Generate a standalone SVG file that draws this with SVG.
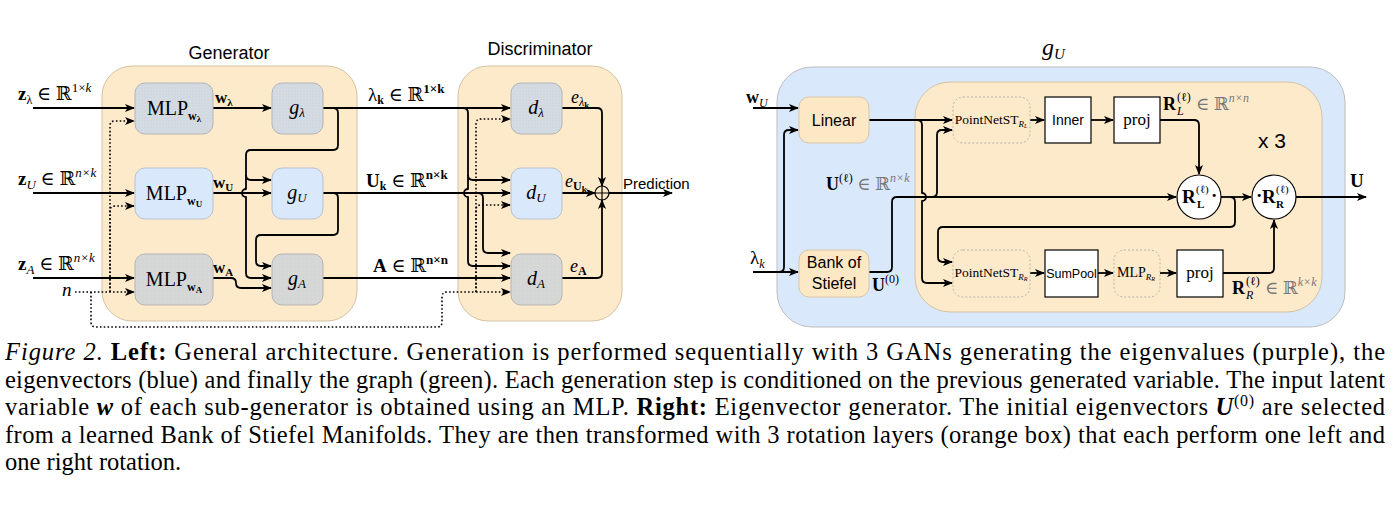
<svg xmlns="http://www.w3.org/2000/svg" width="1400" height="505" viewBox="0 0 1400 505">
<style>
.sans{font-family:"Liberation Sans",Arial,sans-serif;fill:#000;}
.m{font-family:"Liberation Serif","DejaVu Serif",serif;fill:#000;}
.cap{font-family:"Liberation Serif","Times New Roman",serif;font-size:24.5px;fill:#000;}
.c{fill:none;stroke:#000;stroke-width:1.8;stroke-linejoin:round;}
.a{marker-end:url(#ah);}
.d{stroke-dasharray:1.6 2.2;stroke-width:1.6;}
.grp{fill:#fdeacb;stroke:#d3c3a3;stroke-width:1;}
.blueg{fill:#dae8fc;stroke:#bdbdbd;stroke-width:1;}
.nb{fill:url(#dotB);stroke:#b4b4b4;stroke-width:1;}
.nl{fill:#dae8fc;stroke:#b8c2cf;stroke-width:1;}
.ng{fill:url(#dotG);stroke:#b4b4b4;stroke-width:1;}
.no{fill:#fde8c6;stroke:#d7c7a6;stroke-width:1;}
.nd{fill:none;stroke:#b9b4a8;stroke-width:1;stroke-dasharray:2 2;}
.nw{fill:#fff;stroke:#000;stroke-width:1.2;}
.grey{fill:#777;}
</style>
<defs>
<marker id="ah" markerWidth="10" markerHeight="8" refX="9" refY="4" orient="auto" markerUnits="userSpaceOnUse"><path d="M0,0 L10,4 L0,8 L2.5,4 z" fill="#000"/></marker>
<pattern id="dotB" width="3" height="3" patternUnits="userSpaceOnUse"><rect width="3" height="3" fill="#d5dbe3"/><circle cx="1" cy="1" r="0.5" fill="#c3c9d1"/></pattern>
<pattern id="dotG" width="4" height="4" patternUnits="userSpaceOnUse"><rect width="4" height="4" fill="#d4d6d7"/><circle cx="1" cy="1" r="0.6" fill="#ece3c4"/></pattern>
</defs>

<!-- ============ LEFT: containers ============ -->
<g id="generator">
<rect class="grp" x="102" y="66" width="255" height="255" rx="30"/>
<text class="sans" x="229" y="59" font-size="18" text-anchor="middle">Generator</text>
</g>
<g id="discriminator">
<rect class="grp" x="458" y="66" width="164" height="255" rx="30"/>
<text class="sans" x="540" y="55" font-size="18" text-anchor="middle">Discriminator</text>
</g>

<!-- ============ LEFT: connectors ============ -->
<g id="connectors-left">
<path class="c a" d="M33,108 H134"/>
<path class="c a" d="M33,193 H134"/>
<path class="c a" d="M33,278 H134"/>
<path class="c d a" d="M75,292 H134"/>
<path class="c d a" d="M110,292 V126 Q110,121 115,121 H134"/>
<path class="c d a" d="M110,292 V211 Q110,206 115,206 H134"/>
<path class="c d" d="M91,292 V322 Q91,327 96,327 H437 Q442,327 442,322 V297 Q442,292 447,292 H476"/>
<path class="c d a" d="M476,292 H510"/>
<path class="c d a" d="M476,292 V124 Q476,119 481,119 H510"/>
<path class="c d a" d="M476,292 V210 Q476,205 481,205 H510"/>

<path class="c a" d="M213,108 H271"/>
<path class="c a" d="M213,193 H271"/>
<path class="c a" d="M213,278 H231 Q236,278 236,283 Q236,288 241,288 H271"/>

<path class="c a" d="M323,108 H333 Q338,108 338,113 V145 Q338,150 333,150 H251 Q246,150 246,155 V175 Q246,180 251,180 H271"/>
<path class="c a" d="M246,175 V189 A4,4 0 0 0 246,197 V273 Q246,278 251,278 H271"/>
<path class="c a" d="M323,193 H333 Q338,193 338,198 V230 Q338,235 333,235 H261 Q256,235 256,240 V261 Q256,266 261,266 H271"/>

<path class="c a" d="M323,108 H510"/>
<path class="c a" d="M463,108 Q468,108 468,113 V175 Q468,180 473,180 H510"/>
<path class="c a" d="M468,175 V189 A4,4 0 0 0 468,197 V261 Q468,266 473,266 H510"/>
<path class="c a" d="M323,193 H510"/>
<path class="c a" d="M478,193 Q483,193 483,198 V248 Q483,253 488,253 H510"/>
<path class="c a" d="M323,278 H510"/>

<path class="c a" d="M562,108 H597 Q602,108 602,113 V186"/>
<path class="c a" d="M562,193 H595"/>
<path class="c a" d="M562,278 H597 Q602,278 602,273 V200"/>
<path class="c a" d="M609,193 H672"/>
</g>

<!-- ============ LEFT: nodes ============ -->
<g id="mlp-wl"><rect class="nb" x="135" y="83" width="78" height="51" rx="10"/>
<text class="m" x="174" y="115" font-size="20" text-anchor="middle">MLP<tspan dy="5" font-size="12" font-weight="bold">w</tspan><tspan dy="2" font-size="9" font-weight="bold">λ</tspan></text></g>
<g id="mlp-wu"><rect class="nl" x="135" y="168" width="78" height="51" rx="10"/>
<text class="m" x="174" y="200" font-size="20" text-anchor="middle">MLP<tspan dy="5" font-size="12" font-weight="bold">w</tspan><tspan dy="2" font-size="9" font-weight="bold">U</tspan></text></g>
<g id="mlp-wa"><rect class="ng" x="135" y="254" width="78" height="51" rx="10"/>
<text class="m" x="174" y="286" font-size="20" text-anchor="middle">MLP<tspan dy="5" font-size="12" font-weight="bold">w</tspan><tspan dy="2" font-size="9" font-weight="bold">A</tspan></text></g>

<g id="g-l"><rect class="nb" x="272" y="83" width="51" height="51" rx="10"/>
<text class="m" x="297" y="114" font-size="20" text-anchor="middle" font-style="italic">g<tspan dy="3" font-size="13">λ</tspan></text></g>
<g id="g-u"><rect class="nl" x="272" y="168" width="51" height="51" rx="10"/>
<text class="m" x="297" y="199" font-size="20" text-anchor="middle" font-style="italic">g<tspan dy="3" font-size="13">U</tspan></text></g>
<g id="g-a"><rect class="ng" x="272" y="254" width="51" height="51" rx="10"/>
<text class="m" x="297" y="285" font-size="20" text-anchor="middle" font-style="italic">g<tspan dy="3" font-size="13">A</tspan></text></g>

<g id="d-l"><rect class="nb" x="511" y="83" width="51" height="51" rx="10"/>
<text class="m" x="536" y="114" font-size="20" text-anchor="middle" font-style="italic">d<tspan dy="3" font-size="13">λ</tspan></text></g>
<g id="d-u"><rect class="nl" x="511" y="168" width="51" height="51" rx="10"/>
<text class="m" x="536" y="199" font-size="20" text-anchor="middle" font-style="italic">d<tspan dy="3" font-size="13">U</tspan></text></g>
<g id="d-a"><rect class="ng" x="511" y="254" width="51" height="51" rx="10"/>
<text class="m" x="536" y="285" font-size="20" text-anchor="middle" font-style="italic">d<tspan dy="3" font-size="13">A</tspan></text></g>

<g id="sum"><circle cx="602" cy="193" r="7" fill="#fdeacb" stroke="#000" stroke-width="1.2"/>
<path d="M595,193 H609 M602,186 V200" stroke="#000" stroke-width="1.2"/></g>

<!-- ============ LEFT: labels ============ -->
<g id="labels-left">
<text class="m" x="18" y="100" font-size="19"><tspan font-weight="bold">z</tspan><tspan dy="4" font-size="12">λ</tspan><tspan dy="-4"> ∈ ℝ</tspan><tspan dy="-8" font-size="13">1×<tspan font-style="italic">k</tspan></tspan></text>
<text class="m" x="18" y="185" font-size="19"><tspan font-weight="bold">z</tspan><tspan dy="4" font-size="13" font-style="italic">U</tspan><tspan dy="-4"> ∈ ℝ</tspan><tspan dy="-8" font-size="13" font-style="italic">n×k</tspan></text>
<text class="m" x="18" y="270" font-size="19"><tspan font-weight="bold">z</tspan><tspan dy="4" font-size="13" font-style="italic">A</tspan><tspan dy="-4"> ∈ ℝ</tspan><tspan dy="-8" font-size="13" font-style="italic">n×k</tspan></text>
<text class="m" x="62" y="296" font-size="19" font-style="italic">n</text>

<text class="m" x="215" y="103" font-size="17" font-weight="bold">w<tspan dy="3" font-size="11">λ</tspan></text>
<text class="m" x="213" y="188" font-size="17" font-weight="bold">w<tspan dy="3" font-size="11">U</tspan></text>
<text class="m" x="213" y="273" font-size="17" font-weight="bold">w<tspan dy="3" font-size="11">A</tspan></text>

<text class="m" x="368" y="101" font-size="19">λ<tspan dy="3" font-size="12" font-weight="bold">k</tspan><tspan dy="-3"> ∈ ℝ</tspan><tspan dy="-8" font-size="13" font-weight="bold">1×k</tspan></text>
<text class="m" x="366" y="187" font-size="19"><tspan font-weight="bold">U</tspan><tspan dy="3" font-size="12" font-weight="bold">k</tspan><tspan dy="-3"> ∈ ℝ</tspan><tspan dy="-8" font-size="13" font-weight="bold">n×k</tspan></text>
<text class="m" x="373" y="272" font-size="19"><tspan font-weight="bold">A</tspan> ∈ ℝ<tspan dy="-8" font-size="13" font-weight="bold">n×n</tspan></text>

<text class="m" x="571" y="103" font-size="18" font-style="italic">e<tspan dy="3" font-size="12">λ</tspan><tspan dy="2" font-size="9" font-style="normal" font-weight="bold">k</tspan></text>
<text class="m" x="565" y="187" font-size="18" font-style="italic">e<tspan dy="3" font-size="12" font-style="normal" font-weight="bold">U</tspan><tspan dy="2" font-size="9" font-style="normal" font-weight="bold">k</tspan></text>
<text class="m" x="570" y="272" font-size="18" font-style="italic">e<tspan dy="3" font-size="12" font-style="normal" font-weight="bold">A</tspan></text>
<text class="sans" x="623" y="189" font-size="15">Prediction</text>
</g>

<!-- ============ RIGHT: containers ============ -->
<g id="gu-block">
<rect class="blueg" x="777" y="67" width="568" height="260" rx="35"/>
<text class="m" x="1042" y="55" font-size="24" font-style="italic">g<tspan dy="4" font-size="15">U</tspan></text>
</g>
<g id="rotation-layer">
<rect class="grp" x="915" y="82" width="407" height="230" rx="35"/>
<text class="sans" x="1258" y="148" font-size="21">x 3</text>
</g>

<!-- ============ RIGHT: connectors ============ -->
<g id="connectors-right">
<path class="c a" d="M753,108 H798"/>
<path class="c a" d="M753,272 H798"/>
<path class="c a" d="M779,272 Q784,272 784,267 V135 Q784,130 789,130 H798"/>
<path class="c a" d="M869,120 H952"/>
<path class="c a" d="M917,120 Q922,120 922,125 V193 A4,4 0 0 1 922,201 V278 Q922,283 927,283 H952"/>
<path class="c a" d="M869,272 H887 Q892,272 892,267 V202 Q892,197 897,197 H1176"/>
<path class="c a" d="M932,197 Q937,197 937,192 V135 Q937,130 942,130 H952"/>
<path class="c a" d="M1030,120 H1044"/>
<path class="c a" d="M1091,120 H1113"/>
<path class="c a" d="M1160,120 H1194 Q1199,120 1199,125 V174"/>
<path class="c a" d="M1221,197 H1251"/>
<path class="c a" d="M1230,197 Q1235,197 1235,202 V222 Q1235,227 1230,227 H943 Q938,227 938,232 V257 Q938,262 943,262 H952"/>
<path class="c a" d="M1030,273 H1044"/>
<path class="c a" d="M1098,273 H1113"/>
<path class="c a" d="M1160,273 H1176"/>
<path class="c a" d="M1223,273 H1269 Q1274,273 1274,268 V220"/>
<path class="c a" d="M1296,197 H1366"/>
</g>

<!-- ============ RIGHT: nodes ============ -->
<g id="linear"><rect class="no" x="799" y="97" width="70" height="46" rx="10"/>
<text class="sans" x="834" y="126" font-size="16" text-anchor="middle">Linear</text></g>
<g id="bank"><rect class="no" x="799" y="250" width="70" height="47" rx="10"/>
<text class="sans" x="834" y="268" font-size="16" text-anchor="middle">Bank of</text>
<text class="sans" x="834" y="289" font-size="16" text-anchor="middle">Stiefel</text></g>

<g id="pointnet-l"><rect class="nd" x="953" y="97" width="77" height="46" rx="10"/>
<text class="m" x="991" y="124" font-size="13.5" text-anchor="middle">PointNetST<tspan dy="3" font-size="9" font-style="italic">R</tspan><tspan dy="1" font-size="6" font-style="italic">L</tspan></text></g>
<g id="inner"><rect class="nw" x="1045" y="97" width="46" height="46"/>
<text class="sans" x="1068" y="125" font-size="14" text-anchor="middle">Inner</text></g>
<g id="proj-l"><rect class="nw" x="1114" y="97" width="46" height="46"/>
<text class="m" x="1137" y="125" font-size="17" text-anchor="middle">proj</text></g>

<g id="pointnet-r"><rect class="nd" x="953" y="250" width="77" height="47" rx="10"/>
<text class="m" x="991" y="277" font-size="13.5" text-anchor="middle">PointNetST<tspan dy="3" font-size="9" font-style="italic">R</tspan><tspan dy="1" font-size="6" font-style="italic">R</tspan></text></g>
<g id="sumpool"><rect class="nw" x="1045" y="250" width="53" height="47"/>
<text class="sans" x="1071.5" y="278" font-size="12.5" text-anchor="middle">SumPool</text></g>
<g id="mlp-rr"><rect class="nd" x="1114" y="250" width="46" height="47" rx="10"/>
<text class="m" x="1136" y="277" font-size="14" text-anchor="middle">MLP<tspan dy="3" font-size="9" font-style="italic">R</tspan><tspan dy="1" font-size="6" font-style="italic">R</tspan></text></g>
<g id="proj-r"><rect class="nw" x="1177" y="250" width="46" height="47"/>
<text class="m" x="1200" y="278" font-size="17" text-anchor="middle">proj</text></g>

<g id="rl"><circle cx="1199" cy="197" r="22" fill="#fff" stroke="#000" stroke-width="1.2"/>
<text class="m" x="1182" y="203" font-size="19" font-weight="bold">R</text>
<text class="m" x="1196" y="193" font-size="11">(ℓ)</text>
<text class="m" x="1197" y="208" font-size="11" font-weight="bold">L</text>
<text class="m" x="1211" y="202" font-size="19" font-weight="bold">·</text></g>
<g id="rr"><circle cx="1274" cy="197" r="22" fill="#fff" stroke="#000" stroke-width="1.2"/>
<text class="m" x="1256" y="202" font-size="19" font-weight="bold">·</text>
<text class="m" x="1262" y="203" font-size="19" font-weight="bold">R</text>
<text class="m" x="1276" y="193" font-size="11">(ℓ)</text>
<text class="m" x="1276" y="208" font-size="11" font-weight="bold">R</text></g>

<!-- ============ RIGHT: labels ============ -->
<g id="labels-right">
<text class="m" x="746" y="103" font-size="18" font-weight="bold">w<tspan dy="4" font-size="12" font-style="italic" font-weight="normal">U</tspan></text>
<text class="m" x="750" y="264" font-size="19">λ<tspan dy="4" font-size="12" font-style="italic">k</tspan></text>
<text class="m" x="872" y="291" font-size="18" font-weight="bold">U<tspan dy="-8" font-size="12" font-weight="normal">(0)</tspan></text>
<text class="m" x="826" y="190" font-size="18" fill="#333"><tspan font-weight="bold">U</tspan><tspan dy="-8" font-size="12">(ℓ)</tspan><tspan dy="8" class="grey"> ∈ ℝ</tspan><tspan dy="-8" font-size="12" font-style="italic" class="grey">n×k</tspan></text>
<text class="m" x="1163" y="110" font-size="18" font-weight="bold">R</text>
<text class="m" x="1177" y="101" font-size="12">(ℓ)</text>
<text class="m" x="1177" y="115" font-size="12" font-style="italic">L</text>
<text class="m grey" x="1196" y="110" font-size="18">∈ ℝ<tspan dy="-8" font-size="12" font-style="italic">n×n</tspan></text>
<text class="m" x="1232" y="294" font-size="18" font-weight="bold">R</text>
<text class="m" x="1246" y="285" font-size="12">(ℓ)</text>
<text class="m" x="1246" y="299" font-size="12" font-style="italic">R</text>
<text class="m grey" x="1265" y="294" font-size="18">∈ ℝ<tspan dy="-8" font-size="12" font-style="italic">k×k</tspan></text>
<text class="m" x="1350" y="187" font-size="19" font-weight="bold">U</text>
</g>

<!-- ============ CAPTION ============ -->
<g id="caption">
<text class="cap" x="5" y="360" textLength="1380" lengthAdjust="spacing"><tspan font-style="italic">Figure 2.</tspan> <tspan font-weight="bold">Left:</tspan> General architecture. Generation is performed sequentially with 3 GANs generating the eigenvalues (purple), the</text>
<text class="cap" x="5" y="388" textLength="1380" lengthAdjust="spacing">eigenvectors (blue) and finally the graph (green). Each generation step is conditioned on the previous generated variable. The input latent</text>
<text class="cap" x="5" y="415" textLength="1380" lengthAdjust="spacing">variable <tspan font-weight="bold" font-style="italic">w</tspan> of each sub-generator is obtained using an MLP. <tspan font-weight="bold">Right:</tspan> Eigenvector generator. The initial eigenvectors <tspan font-weight="bold" font-style="italic">U</tspan><tspan dy="-9" font-size="16">(0)</tspan><tspan dy="9"> are selected</tspan></text>
<text class="cap" x="5" y="443" textLength="1380" lengthAdjust="spacing">from a learned Bank of Stiefel Manifolds. They are then transformed with 3 rotation layers (orange box) that each perform one left and</text>
<text class="cap" x="5" y="470">one right rotation.</text>
</g>
</svg>
